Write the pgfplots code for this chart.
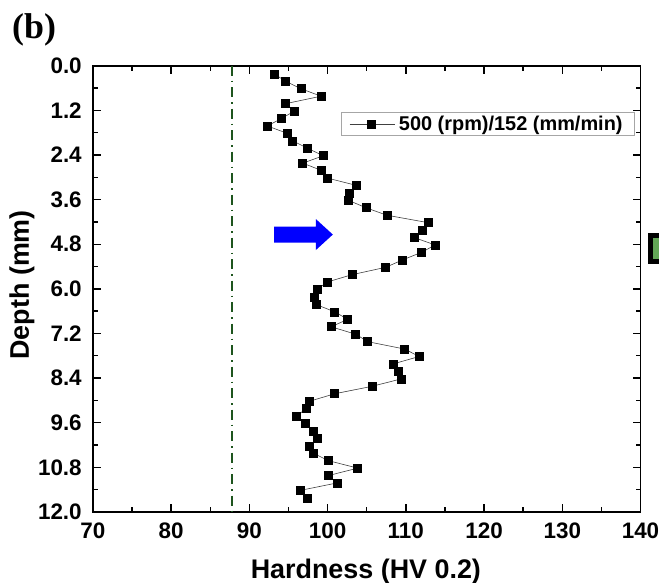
\documentclass[border=0pt]{standalone}
\usepackage{pgfplots}
\pgfplotsset{compat=1.18}
\usepackage{fontspec}
\setmainfont{Liberation Sans}
\newfontfamily\seriffont{Liberation Serif}
\definecolor{dkgreen}{RGB}{30,85,30}
\definecolor{boxgreen}{RGB}{98,166,86}
\begin{document}
\begin{tikzpicture}
\begin{axis}[
  scale only axis, width=547.6bp, height=446.3bp,
  at={(0,0)}, anchor=south west,
  xmin=70, xmax=140, ymin=0, ymax=12,
  y dir=reverse,
  xtick={70,80,...,140}, minor x tick num=1,
  ytick={0,1.2,2.4,3.6,4.8,6.0,7.2,8.4,9.6,10.8,12.0}, minor y tick num=1,
  tick align=inside,
  major tick length=8bp, minor tick length=5bp,
  every tick/.style={black, line width=1.4bp},
  axis line style={line width=1.8bp},
  /pgf/number format/assume math mode=true,
  yticklabel style={/pgf/number format/fixed, /pgf/number format/fixed zerofill, /pgf/number format/precision=1, xshift=-11bp},
  xticklabel style={/pgf/number format/fixed, /pgf/number format/precision=0, yshift=-11bp},
  tick label style={font=\fontsize{22.5}{24}\selectfont\bfseries, inner sep=0pt},
  xlabel={Hardness (HV 0.2)}, ylabel={Depth (mm)},
  label style={font=\fontsize{27}{29}\selectfont\bfseries, inner sep=0pt},
  xlabel style={at={(axis description cs:0.4985,-0.1479)}, anchor=base},
  ylabel style={at={(axis description cs:-0.1169,0.509)}, anchor=base},
  legend style={at={(rel axis cs:0.99,0.8963)}, anchor=north east,
    draw=gray!70, line width=0.8bp, inner xsep=8bp, inner ysep=1.5bp,
    font=\fontsize{20}{22}\selectfont\bfseries,
    nodes={inner xsep=4bp}},
  legend image code/.code={\draw[mark repeat=2, mark phase=2, #1] plot coordinates {(0bp,0bp) (22bp,0bp) (45bp,0bp)};},
  clip=false,
]
\addplot[forget plot, dkgreen, line width=2bp, dash pattern=on 10bp off 5bp on 1.5bp off 5bp]
  coordinates {(87.75,0) (87.75,12)};
\addplot[black!75, line width=0.6bp, mark=square*, mark size=4bp,
  mark options={black, fill=black, solid}]
  table[x=h, y=d] {
d h
0.22 93.16
0.42 94.65
0.62 96.6
0.82 99.17
1.02 94.65
1.22 95.76
1.42 94.1
1.62 92.3
1.82 94.86
2.02 95.55
2.22 97.42
2.42 99.46
2.62 96.83
2.82 99.26
3.02 99.94
3.22 103.73
3.42 102.75
3.62 102.66
3.82 104.92
4.02 107.57
4.22 112.85
4.42 112.17
4.62 111.06
4.82 113.75
5.02 112.0
5.22 109.6
5.42 107.44
5.62 103.1
5.82 99.9
6.02 98.7
6.22 98.27
6.42 98.53
6.62 100.92
6.82 102.58
7.02 100.45
7.22 103.6
7.42 105.14
7.62 109.87
7.82 111.7
8.02 108.34
8.22 109.1
8.42 109.44
8.62 105.69
8.82 100.92
9.02 97.72
9.22 97.25
9.42 96.06
9.62 97.16
9.82 98.15
10.02 98.7
10.22 97.72
10.42 98.19
10.62 100.1
10.82 103.86
11.02 100.1
11.22 101.18
11.42 96.48
11.62 97.42
};
\addlegendentry{500 (rpm)/152 (mm/min)}
\fill[blue] (axis cs:93.16,4.325) -- (axis cs:98.5,4.325) -- (axis cs:98.5,4.123)
  -- (axis cs:100.67,4.54) -- (axis cs:98.5,4.957) -- (axis cs:98.5,4.755)
  -- (axis cs:93.16,4.755) -- cycle;
\end{axis}
\node[anchor=base west, inner sep=0pt, font=\seriffont\fontsize{36}{38}\selectfont\bfseries] at (-80.9bp,473bp) {(b)};
\filldraw[fill=boxgreen, draw=black, line width=5bp] (557.9bp,250.5bp) rectangle (580bp,276.2bp);
\pgfresetboundingbox
\path[use as bounding box] (-92.9bp,-71bp) rectangle (566.1bp,512bp);
\end{tikzpicture}
\end{document}
